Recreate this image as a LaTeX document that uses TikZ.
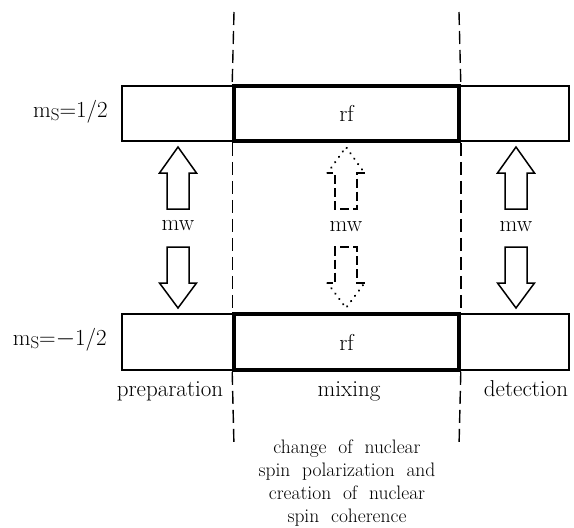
\documentclass[tikz,border=0pt]{standalone}
\begin{document}
\begin{tikzpicture}[x=1pt,y=-1pt,
  thinbox/.style={draw, line width=1.5pt, inner sep=0pt},
  thickbox/.style={draw, line width=3.6pt, inner sep=0pt},
  lab/.style={font=\fontsize{23}{27}\selectfont, inner sep=0pt},
  desc/.style={font=\fontsize{19.5}{23}\selectfont, inner sep=0pt, align=center},
  divline/.style={line width=1.4pt, dash pattern=on 13pt off 6pt},
  arr/.style={draw, line width=1.5pt, line join=miter, fill=white},
  dotseg/.style={line width=2.3pt, line cap=round, dash pattern=on 0.1pt off 6.5pt},
  dashseg/.style={line width=1.3pt, dash pattern=on 9pt off 4pt}]
\useasboundingbox (0,0) rectangle (574,528);

% boxes
\node[thinbox, minimum width=112pt, minimum height=55pt] (tl) at (178,113.5) {};
\node[thinbox, minimum width=110pt, minimum height=55pt] (tr) at (514,113.5) {};
\node[thinbox, minimum width=112pt, minimum height=56pt] (bl) at (178,342) {};
\node[thinbox, minimum width=110pt, minimum height=56pt] (br) at (514,342) {};
\node[thickbox, minimum width=225pt, minimum height=55pt] (tm) at (346.5,113.5) {};
\node[thickbox, minimum width=225pt, minimum height=56pt] (bm) at (346.5,342) {};
\node[lab] at (tm.center) {rf};
\node[lab] at (bm.center) {rf};

% divider lines
\coordinate (d1a) at (234,12);
\coordinate (d1b) at (234,447);
\coordinate (d2a) at (459,12);
\coordinate (d2b) at (459,447);
\draw[divline] (d1a) -- (tm.north west);
\draw[divline] (tm.south west) -- (bm.north west);
\draw[divline] (bm.south west) -- (d1b);
\draw[divline] (d2a) -- (tm.north east);
\draw[divline] (tm.south east) -- (bm.north east);
\draw[divline] (bm.south east) -- (d2b);

% level labels
\node[lab, anchor=base east] (lu) at (108,117) {m\raisebox{-0.35ex}{\fontsize{17}{17}\selectfont S}=1/2};
\node[lab, anchor=base east] (ld) at (107,345) {m\raisebox{-0.35ex}{\fontsize{17}{17}\selectfont S}=$-$1/2};

% solid arrows
\foreach \cx in {178,516} {
  \begin{scope}[shift={(\cx,0)}]
    \draw[arr] (0,147) -- (18.5,173) -- (11,173) -- (11,209) -- (-11,209) -- (-11,173) -- (-18.5,173) -- cycle;
    \draw[arr] (0,308) -- (18.5,283) -- (11,283) -- (11,247) -- (-11,247) -- (-11,283) -- (-18.5,283) -- cycle;
  \end{scope}
}
% dotted / dashed middle arrows
\begin{scope}[shift={(346,0)}]
  \draw[dotseg] (-18.5,173) -- (0,147) -- (18.5,173);
  \draw[dashseg] (18.5,173) -- (11,173) -- (11,209) -- (-11,209) -- (-11,173) -- (-18.5,173);
  \draw[dotseg] (-18.5,283) -- (0,308) -- (18.5,283);
  \draw[dashseg] (18.5,283) -- (11,283) -- (11,247) -- (-11,247) -- (-11,283) -- (-18.5,283);
\end{scope}

\node[lab] (mw1) at (178,226) {mw};
\node[lab] (mw2) at (346,227) {mw};
\node[lab] (mw3) at (516,227) {mw};

% phase labels
\node[lab, anchor=base] (prep) at (170,396) {preparation};
\node[lab, anchor=base] (mix) at (349,396) {mixing};
\node[lab, anchor=base] (det) at (526,396) {detection};

\node[desc, anchor=north] (dsc) at (347,440) {change\ \ of\ \ nuclear\\spin\ \ polarization\ \ and\\creation\ \ of\ \ nuclear\\spin\ \ coherence};
\end{tikzpicture}
\end{document}
